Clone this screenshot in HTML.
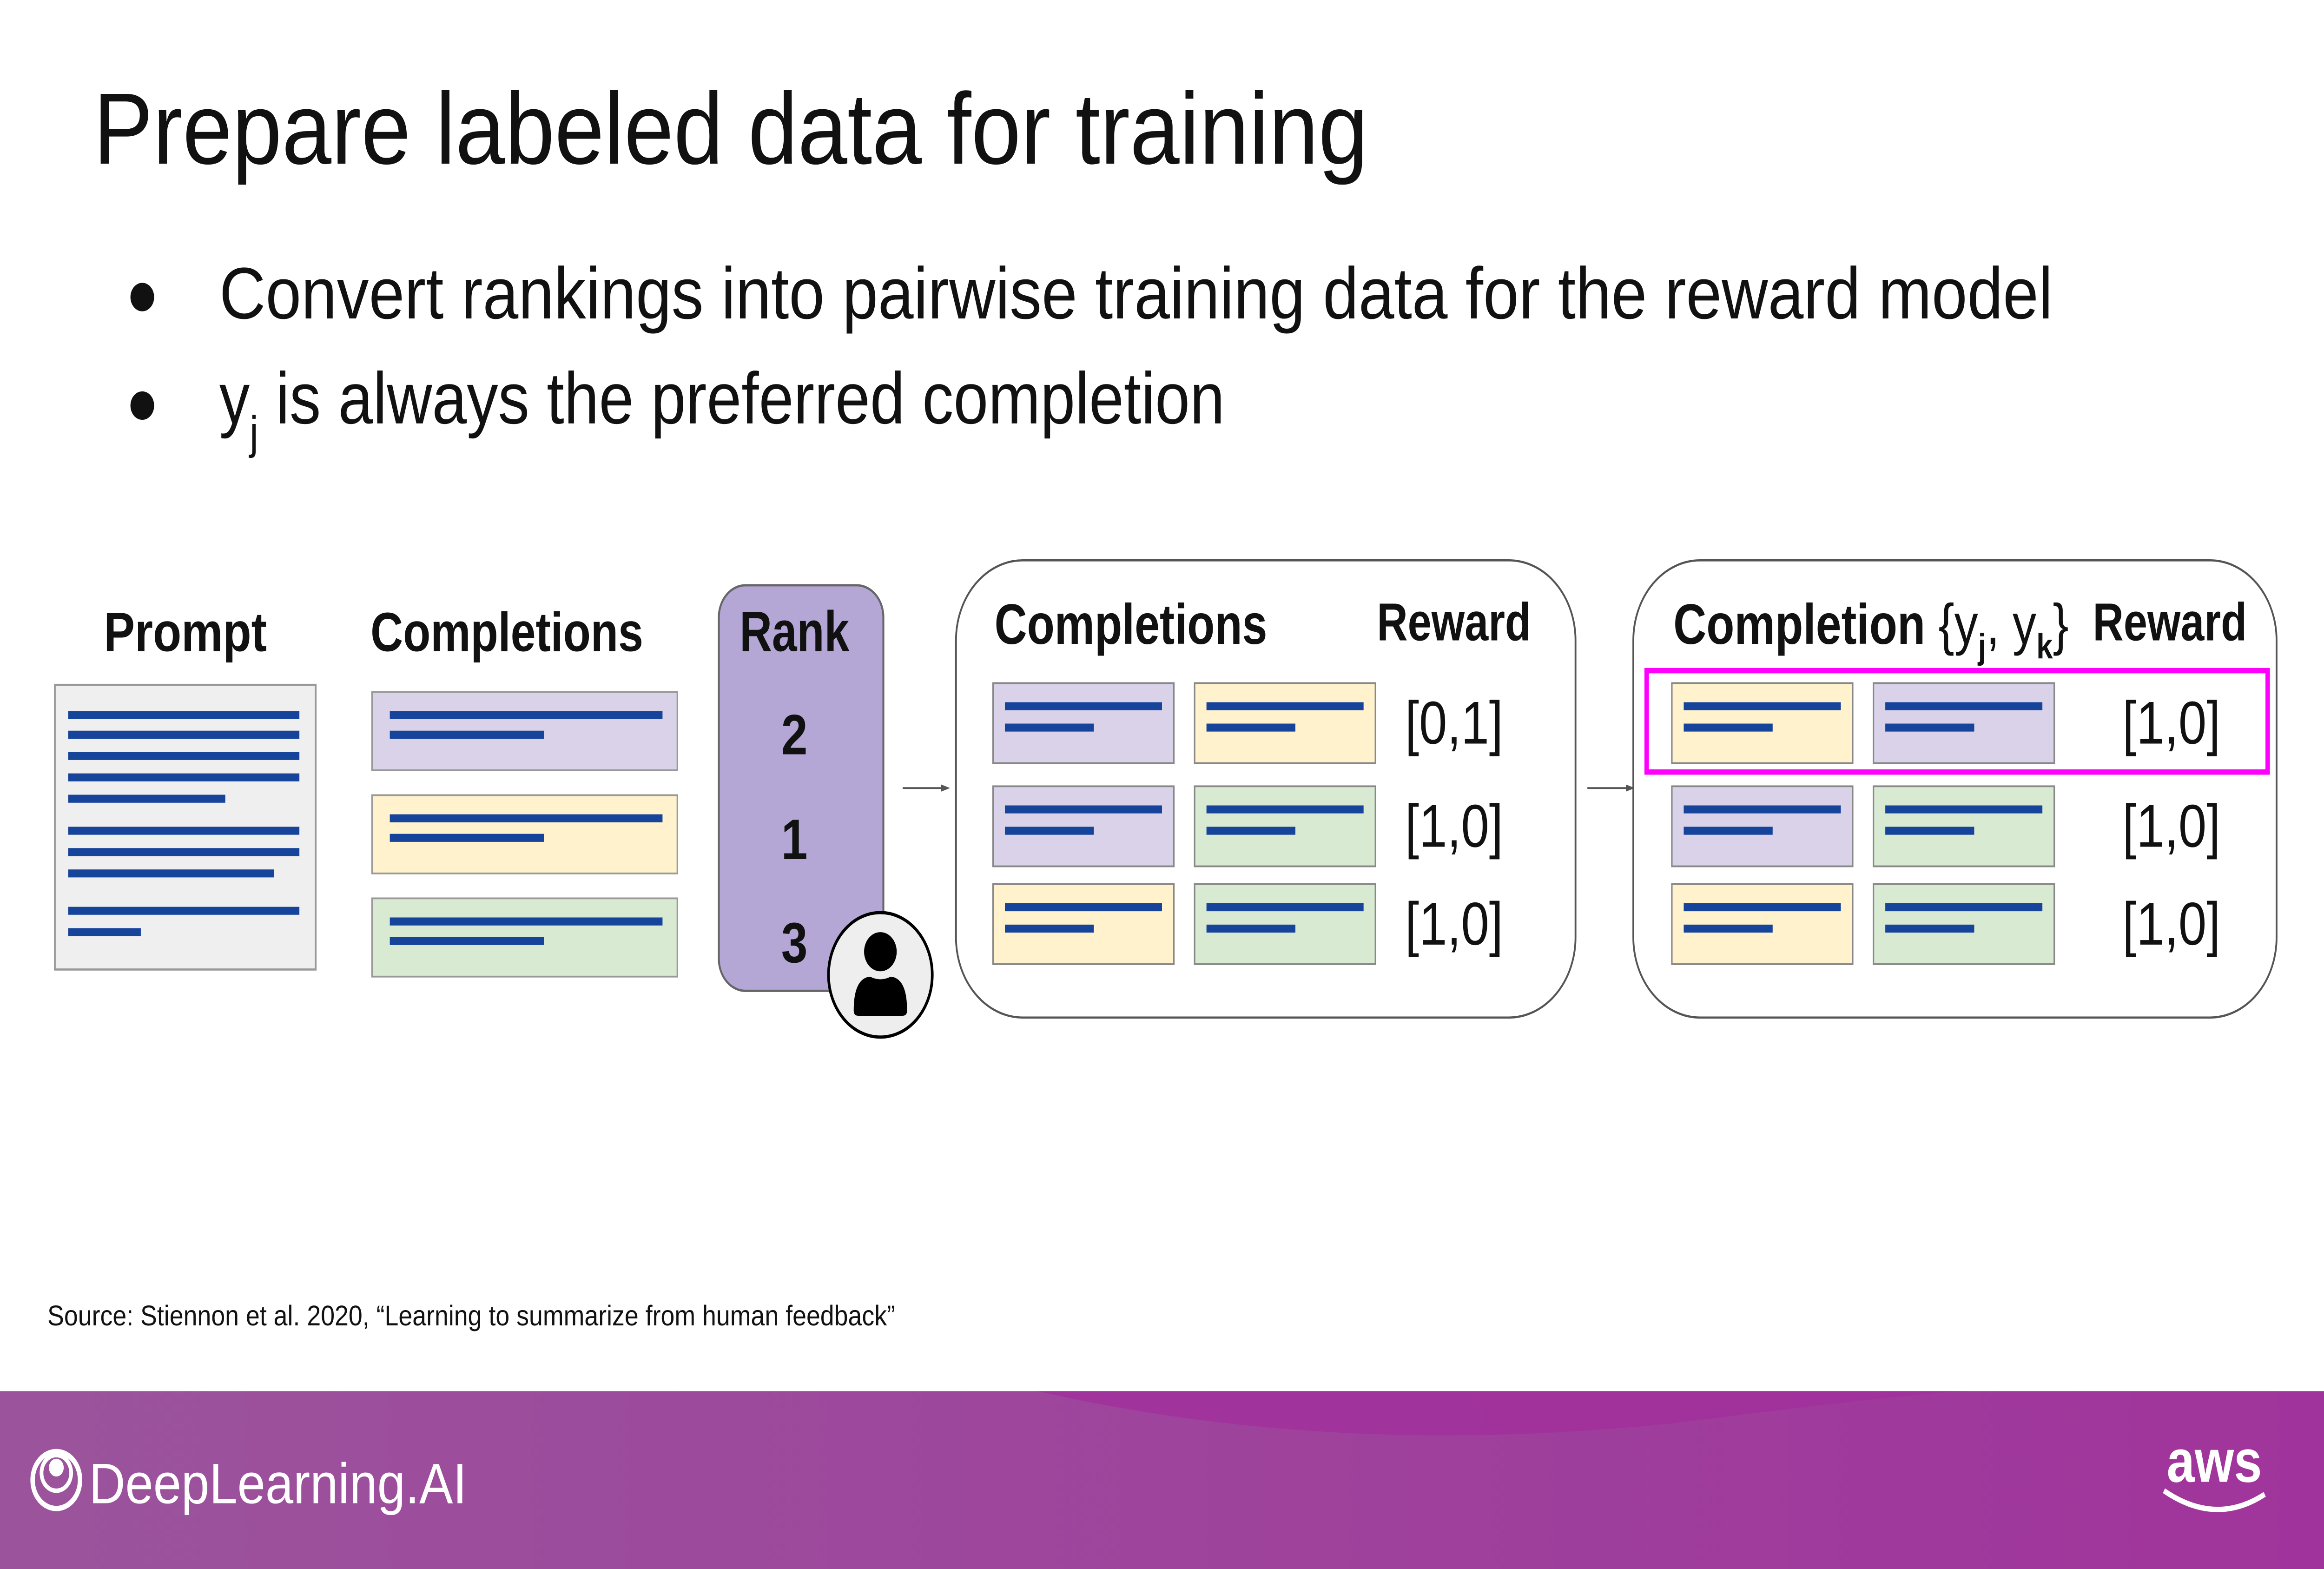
<!DOCTYPE html>
<html><head><meta charset="utf-8"><style>
html,body{margin:0;padding:0;background:#fff;width:100vw;height:100vh;overflow:hidden;}
svg{display:block;width:100vw;height:100vh;}
text{font-family:"Liberation Sans",sans-serif;}
</style></head><body>
<svg viewBox="0 0 1568 882" preserveAspectRatio="none" xmlns="http://www.w3.org/2000/svg">
<defs>
<linearGradient id="fg" x1="0" x2="1" y1="0" y2="0"><stop offset="0" stop-color="#9b549c"/><stop offset="1" stop-color="#a0349c"/></linearGradient>
</defs>
<rect width="1568" height="882" fill="#fff"/>
<text x="63" y="92" font-size="57" fill="#111" textLength="860" lengthAdjust="spacingAndGlyphs">Prepare labeled data for training</text>
<circle cx="96" cy="167" r="8" fill="#111"/>
<circle cx="96" cy="228" r="8" fill="#111"/>
<text x="148" y="179" font-size="41" fill="#111" textLength="1237" lengthAdjust="spacingAndGlyphs">Convert rankings into pairwise training data for the reward model</text>
<text x="148" y="238" font-size="41" fill="#111">y<tspan font-size="26" dy="14">j</tspan><tspan dy="-14" textLength="652" lengthAdjust="spacingAndGlyphs"> is always the preferred completion</tspan></text>

<text x="125" y="366" font-size="31" font-weight="bold" text-anchor="middle" fill="#111" textLength="110" lengthAdjust="spacingAndGlyphs">Prompt</text>
<g>
<rect x="37" y="385" width="176" height="160" fill="#efefef" stroke="#999" stroke-width="1.2"/>
<g stroke="#17449b" stroke-width="4.5">
<line x1="46" y1="402" x2="202" y2="402"/><line x1="46" y1="413" x2="202" y2="413"/>
<line x1="46" y1="425" x2="202" y2="425"/><line x1="46" y1="437" x2="202" y2="437"/>
<line x1="46" y1="449" x2="152" y2="449"/><line x1="46" y1="467" x2="202" y2="467"/>
<line x1="46" y1="479" x2="202" y2="479"/><line x1="46" y1="491" x2="185" y2="491"/>
<line x1="46" y1="512" x2="202" y2="512"/><line x1="46" y1="524" x2="95" y2="524"/>
</g></g>

<text x="342" y="366" font-size="31" font-weight="bold" text-anchor="middle" fill="#111" textLength="184" lengthAdjust="spacingAndGlyphs">Completions</text>
<g id="comps"></g>

<g>
<rect x="485" y="329" width="111" height="228" rx="18" fill="#b4a7d6" stroke="#666" stroke-width="1.3"/>
<text x="536" y="366" font-size="32" font-weight="bold" text-anchor="middle" fill="#111" textLength="74" lengthAdjust="spacingAndGlyphs">Rank</text>
<text x="536" y="424" font-size="32" font-weight="bold" text-anchor="middle" fill="#111">2</text>
<text x="536" y="483" font-size="32" font-weight="bold" text-anchor="middle" fill="#111">1</text>
<text x="536" y="541" font-size="32" font-weight="bold" text-anchor="middle" fill="#111">3</text>
</g>
<g>
<circle cx="594" cy="548" r="35" fill="#eee" stroke="#000" stroke-width="1.8"/>
<circle cx="594" cy="535" r="11" fill="#000"/>
<path d="M576 568 Q576 550 587 549 Q594 552 601 549 Q612 550 612 568 Q612 571 609 571 L579 571 Q576 571 576 568Z" fill="#000"/>
</g>

<g><line x1="609" y1="443" x2="636" y2="443" stroke="#555" stroke-width="1"/><path d="M641 443 L635 441 L635 445Z" fill="#555"/></g>
<g><line x1="1071" y1="443" x2="1098" y2="443" stroke="#555" stroke-width="1"/><path d="M1103 443 L1097 441 L1097 445Z" fill="#555"/></g>

<rect x="645" y="315" width="418" height="257" rx="45" fill="#fff" stroke="#555" stroke-width="1.2"/>
<text x="671" y="362" font-size="32" font-weight="bold" fill="#111" textLength="184" lengthAdjust="spacingAndGlyphs">Completions</text>
<text x="929" y="360" font-size="30" font-weight="bold" fill="#111" textLength="104" lengthAdjust="spacingAndGlyphs">Reward</text>

<rect x="1102" y="315" width="434" height="257" rx="45" fill="#fff" stroke="#555" stroke-width="1.2"/>
<text x="1129" y="362" font-size="32" font-weight="bold" fill="#111"><tspan textLength="170" lengthAdjust="spacingAndGlyphs">Completion</tspan><tspan font-weight="normal"> {y</tspan><tspan font-size="20" dy="8">j</tspan><tspan dy="-8" font-weight="normal">, y</tspan><tspan font-size="20" dy="8">k</tspan><tspan dy="-8" font-weight="normal">}</tspan></text>
<text x="1412" y="360" font-size="30" font-weight="bold" fill="#111" textLength="104" lengthAdjust="spacingAndGlyphs">Reward</text>
<g id="rows"></g>
<rect x="1111" y="377" width="419" height="57" fill="none" stroke="#f0f" stroke-width="3"/>

<text x="32" y="745" font-size="16" fill="#111" textLength="572" lengthAdjust="spacingAndGlyphs">Source: Stiennon et al. 2020, “Learning to summarize from human feedback”</text>

<g>
<rect x="0" y="782" width="1568" height="100" fill="url(#fg)"/>
<path d="M700 782 Q900 820 1130 800 Q1300 782 1330 782Z" fill="#a32d9d" opacity="0.7"/>
<circle cx="38" cy="832" r="16" fill="none" stroke="#fff" stroke-width="3"/>
<circle cx="38" cy="828" r="10" fill="none" stroke="#fff" stroke-width="2.5"/>
<circle cx="38" cy="825" r="5" fill="#fff"/>
<text x="60" y="845" font-size="32" fill="#fff" textLength="255" lengthAdjust="spacingAndGlyphs">DeepLearning.AI</text>
<text x="1494" y="833" font-size="34" font-weight="bold" fill="#fff" text-anchor="middle">aws</text>
<path d="M1460 838 Q1495 858 1528 840" fill="none" stroke="#fff" stroke-width="3"/>
</g>
</svg>
<script>
const NS='http://www.w3.org/2000/svg';
const colors={p:'#d9d2e9',y:'#fff2cc',g:'#d9ead3'};
const compColors=['p','y','g'];
const pairRows=[['p','y'],['p','g'],['y','g']];
const pairRewards=['[0,1]','[1,0]','[1,0]'];
const orderedRows=[['y','p'],['p','g'],['y','g']];
const orderedRewards=['[1,0]','[1,0]','[1,0]'];
function mk(tag,attrs,parent){const e=document.createElementNS(NS,tag);for(const k in attrs)e.setAttribute(k,attrs[k]);parent.appendChild(e);return e;}
const comps=document.getElementById('comps');
compColors.forEach((c,i)=>{
  const y=389+i*58;
  const g=mk('g',{},comps);
  
  
  mk('rect',{x:251,y:y,width:206,height:44,fill:colors[c],stroke:'#999','stroke-width':1},g);
  mk('line',{x1:263,y1:y+13,x2:447,y2:y+13,stroke:'#17449b','stroke-width':4.5},g);
  mk('line',{x1:263,y1:y+24,x2:367,y2:y+24,stroke:'#17449b','stroke-width':4.5},g);
});
const rows=document.getElementById('rows');
const rowY=[384,442,497];
function card(x,y,c,parent){
  mk('rect',{x:x,y:y,width:122,height:45,fill:colors[c],stroke:'#888','stroke-width':1},parent);
  mk('line',{x1:x+8,y1:y+13,x2:x+114,y2:y+13,stroke:'#17449b','stroke-width':4.5},parent);
  mk('line',{x1:x+8,y1:y+25,x2:x+68,y2:y+25,stroke:'#17449b','stroke-width':4.5},parent);
}
pairRows.forEach((r,i)=>{
  const g=mk('g',{},rows);
  
  
  card(670,rowY[i],r[0],g);card(806,rowY[i],r[1],g);
  const t=mk('text',{x:948,y:rowY[i]+34,'font-size':34,fill:'#111'},g);t.textContent=pairRewards[i];
});
orderedRows.forEach((r,i)=>{
  const g=mk('g',{},rows);
  
  
  card(1128,rowY[i],r[0],g);card(1264,rowY[i],r[1],g);
  const t=mk('text',{x:1432,y:rowY[i]+34,'font-size':34,fill:'#111'},g);t.textContent=orderedRewards[i];
});
</script>
</body></html>
